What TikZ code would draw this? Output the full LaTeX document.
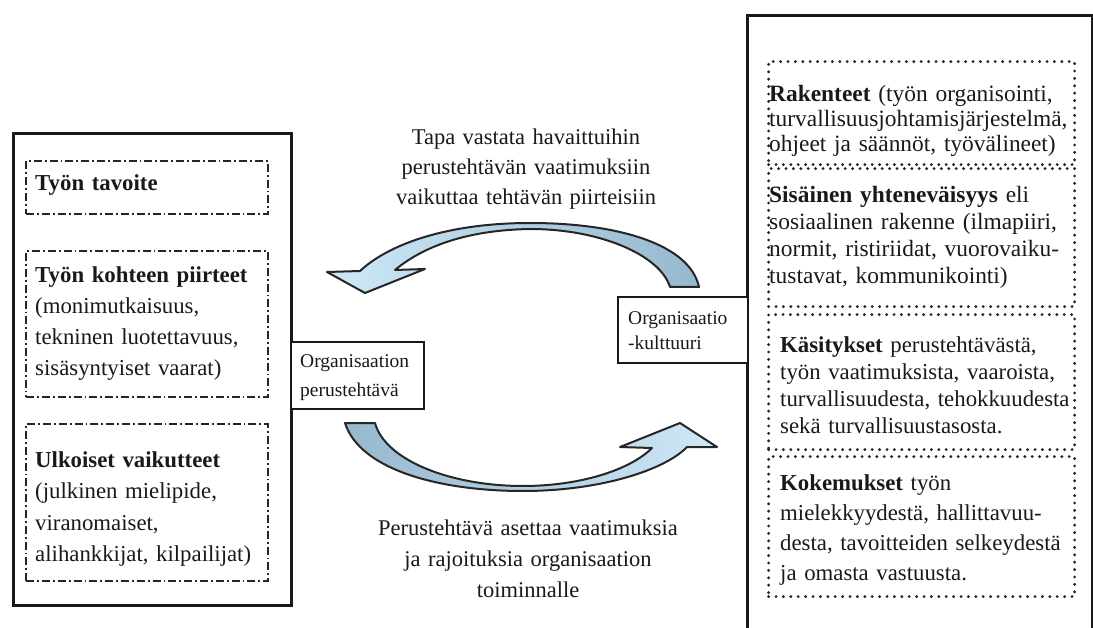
\documentclass[tikz,border=0pt]{standalone}
\usepackage{fontspec}
\setmainfont{Liberation Serif}
\definecolor{arrLight}{RGB}{206,232,247}
\definecolor{arrDark}{RGB}{150,184,206}
\definecolor{txtc}{RGB}{25,25,25}
\begin{document}
\begin{tikzpicture}[x=1pt,y=-1pt,
  outerbox/.style={draw=black!90, line width=2.8pt, anchor=north west, inner sep=0pt},
  ddbox/.style={draw=black!85, line width=2.3pt, dash pattern=on 8pt off 3pt on 1.8pt off 3pt, anchor=north west, inner sep=0pt},
  dotbox/.style={draw=black!85, line width=3.2pt, dash pattern=on 0pt off 7.4pt, line cap=round, anchor=north west, inner sep=0pt},
  smallbox/.style={draw=black!90, line width=2.2pt, anchor=north west, inner sep=0pt, fill=white},
  txt/.style={anchor=base west, align=left, text width=330pt, inner sep=0pt, text=txtc, font=\fontsize{22.8}{#1}\selectfont},
  ctxt/.style={anchor=base, align=center, text width=400pt, inner sep=0pt, text=txtc, font=\fontsize{22.5}{#1}\selectfont},
  stxt/.style={anchor=base west, align=left, text width=130pt, inner sep=0pt, text=txtc, font=\fontsize{19.5}{#1}\selectfont},
  bigarrow/.style={draw=black!85, line width=2pt, line join=round}
]
\useasboundingbox (0,0) rectangle (1093,628);

% left column
\node[outerbox, minimum width=278pt, minimum height=472pt] (L) at (12,132) {};
\node[ddbox, minimum width=242pt, minimum height=53pt] (L1) at (25,160) {};
\node[ddbox, minimum width=242pt, minimum height=146pt] (L2) at (25,250) {};
\node[ddbox, minimum width=242pt, minimum height=157pt] (L3) at (25,423) {};
\node[txt=31pt] (L1t) at (35,191) {\textbf{Työn tavoite}};
\node[txt=31pt] (L2t) at (35,283) {\textbf{Työn kohteen piirteet}\\(monimutkaisuus,\\tekninen luotettavuus,\\sisäsyntyiset vaarat)};
\node[txt=31.5pt] (L3t) at (35,467) {\textbf{Ulkoiset vaikutteet}\\(julkinen mielipide,\\viranomaiset,\\alihankkijat, kilpailijat)};

% right column
\node[outerbox, minimum width=345pt, minimum height=640pt] (R) at (746,14) {};
\node[dotbox, minimum width=306pt, minimum height=103pt] (R1) at (767,60) {};
\node[dotbox, minimum width=306pt, minimum height=138pt] (R2) at (767,167) {};
\node[dotbox, minimum width=306pt, minimum height=135pt] (R3) at (767,313) {};
\node[dotbox, minimum width=306pt, minimum height=140pt] (R4) at (767,455) {};
\node[txt=25pt, font=\fontsize{23.4}{25}\selectfont] (R1t) at (769,102) {\textbf{Rakenteet} (työn organisointi,\\turvallisuusjohtamisjärjestelmä,\\ohjeet ja säännöt, työvälineet)};
\node[txt=26.7pt, font=\fontsize{23.4}{26.7}\selectfont] (R2t) at (769,203) {\textbf{Sisäinen yhteneväisyys} eli\\sosiaalinen rakenne (ilmapiiri,\\normit, ristiriidat, vuorovaiku-\\tustavat, kommunikointi)};
\node[txt=26.7pt] (R3t) at (780,353) {\textbf{Käsitykset} perustehtävästä,\\työn vaatimuksista, vaaroista,\\turvallisuudesta, tehokkuudesta\\sekä turvallisuustasosta.};
\node[txt=30pt] (R4t) at (780,490) {\textbf{Kokemukset} työn\\mielekkyydestä, hallittavuu-\\desta, tavoitteiden selkeydestä\\ja omasta vastuusta.};

% small boxes
\node[smallbox, minimum width=133pt, minimum height=67pt] (A) at (290,341) {};
\node[stxt=29pt] (At) at (300,368) {Organisaation\\perustehtävä};
\node[smallbox, minimum width=130pt, minimum height=66pt] (B) at (617,296) {};
\node[stxt=25pt] (Bt) at (628,325) {Organisaatio\\-kulttuuri};

% middle texts
\node[ctxt=30pt] (Tt) at (526,145) {Tapa vastata havaittuihin\\perustehtävän vaatimuksiin\\vaikuttaa tehtävän piirteisiin};
\node[ctxt=31pt] (Bt2) at (528,535) {Perustehtävä asettaa vaatimuksia\\ja rajoituksia organisaation\\toiminnalle};

% top curved arrow (right to left)
\path[bigarrow, left color=arrLight, right color=arrDark]
  (699,287) .. controls (690,245) and (620,223) .. (530,223)
  .. controls (450,223) and (390,243) .. (360,271)
  -- (327,272) -- (365,293) -- (425,269) -- (395,270)
  .. controls (425,245) and (470,230) .. (530,229)
  .. controls (600,229) and (660,255) .. (670,287) -- cycle;

% bottom curved arrow (left to right)
\path[bigarrow, left color=arrDark, right color=arrLight]
  (345,423) .. controls (360,470) and (440,491) .. (523,491)
  .. controls (600,491) and (665,470) .. (687,447)
  -- (717,447) -- (680,423) -- (620,447) -- (652,448)
  .. controls (630,470) and (580,486) .. (523,486)
  .. controls (450,486) and (385,460) .. (375,423) -- cycle;
\end{tikzpicture}
\end{document}
